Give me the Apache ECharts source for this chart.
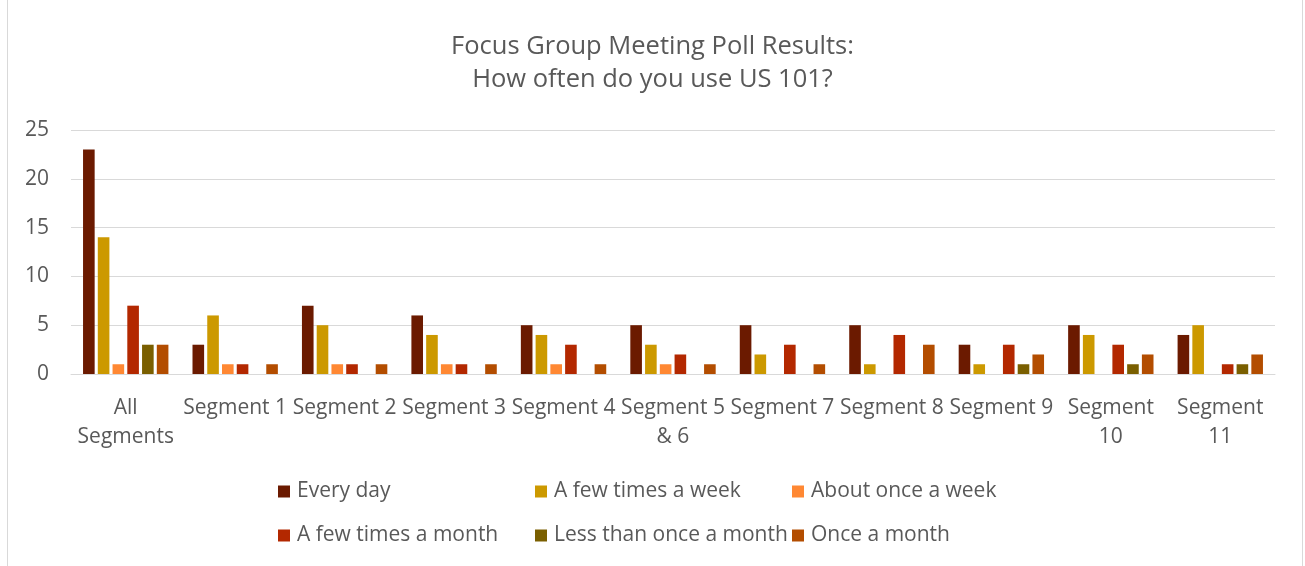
<!DOCTYPE html>
<html>
<head>
<meta charset="utf-8">
<script src="https://cdn.jsdelivr.net/npm/echarts@6/dist/echarts.min.js"></script>
<style>
  html, body { margin: 0; padding: 0; background: #fff; }
  #chart { width: 1305px; height: 566px; }
</style>
</head>
<body>
<div id="chart"></div>
<script>
// Poll categories (segments) and answer counts per frequency option
const categories = ['All\nSegments', 'Segment 1', 'Segment 2', 'Segment 3', 'Segment 4', 'Segment 5\n& 6', 'Segment 7', 'Segment 8', 'Segment 9', 'Segment\n10', 'Segment\n11'];
const seriesNames = ['Every day', 'A few times a week', 'About once a week', 'A few times a month', 'Less than once a month', 'Once a month'];
const everyDay          = [23, 3, 7, 6, 5, 5, 5, 5, 3, 5, 4];
const fewTimesWeek      = [14, 6, 5, 4, 4, 3, 2, 1, 1, 4, 5];
const aboutOnceWeek     = [1, 1, 1, 1, 1, 1, 0, 0, 0, 0, 0];
const fewTimesMonth     = [7, 1, 1, 1, 3, 2, 3, 4, 3, 3, 1];
const lessThanOnceMonth = [3, 0, 0, 0, 0, 0, 0, 0, 1, 1, 1];
const onceMonth         = [3, 1, 1, 1, 1, 1, 1, 3, 2, 2, 2];
const yTicks = [0, 5, 10, 15, 20, 25];

const values = [everyDay, fewTimesWeek, aboutOnceWeek, fewTimesMonth, lessThanOnceMonth, onceMonth];
const colors = ['#6B1A00', '#CC9900', '#FF8833', '#B32800', '#7A5F00', '#B34D00'];

const FONT = 'Open Sans';
const TEXT = '#595959';

// legend laid out as a 3 x 2 grid
const legendCols = [278, 535, 792];
const legendRows = [481, 525];
const legends = seriesNames.map((name, i) => ({
  data: [name],
  left: legendCols[i % 3],
  top: legendRows[Math.floor(i / 3)],
  padding: 0,
  icon: 'rect',
  itemWidth: 12,
  itemHeight: 12,
  itemGap: 0,
  textStyle: { color: TEXT, fontSize: 21, fontFamily: FONT, padding: [0, 0, 0, 2] },
  selectedMode: false
}));

const chart = echarts.init(document.getElementById('chart'), null, { renderer: 'canvas' });
chart.setOption({
  animation: false,
  backgroundColor: '#fff',
  color: colors,
  title: {
    text: 'Focus Group Meeting Poll Results:\nHow often do you use US 101?',
    left: 'center',
    top: 25,
    textStyle: { color: TEXT, fontSize: 25.5, fontWeight: 'normal', fontFamily: FONT, lineHeight: 33 }
  },
  legend: legends,
  grid: { left: 71, right: 30, top: 130, bottom: 192, containLabel: false },
  xAxis: {
    type: 'category',
    data: categories,
    axisLine: { lineStyle: { color: '#D9D9D9', width: 1 } },
    axisTick: { show: false },
    axisLabel: { color: TEXT, fontSize: 21, fontFamily: FONT, margin: 20, lineHeight: 29, interval: 0 }
  },
  yAxis: {
    type: 'value',
    min: yTicks[0],
    max: yTicks[yTicks.length - 1],
    interval: yTicks[1] - yTicks[0],
    axisLine: { show: false },
    axisTick: { show: false },
    splitLine: { lineStyle: { color: '#D9D9D9', width: 1 } },
    axisLabel: { color: TEXT, fontSize: 21, fontFamily: FONT, margin: 22 }
  },
  series: seriesNames.map((name, i) => ({
    name: name,
    type: 'bar',
    data: values[i],
    barGap: '27%',
    barCategoryGap: '22%',
    itemStyle: { color: colors[i] }
  })),
  graphic: [{
    type: 'rect',
    shape: { x: 7.5, y: -2, width: 1295, height: 580 },
    style: { fill: 'none', stroke: '#D9D9D9', lineWidth: 1 },
    silent: true
  }]
});
</script>
</body>
</html>
